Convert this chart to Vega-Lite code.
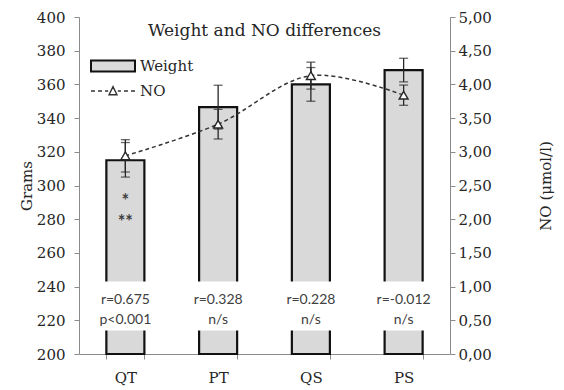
{
  "$schema": "https://vega.github.io/schema/vega-lite/v6.json",
  "width": 371,
  "height": 337,
  "autosize": "none",
  "padding": {"left": 79, "top": 17, "right": 114, "bottom": 36},
  "config": {
    "locale": {"number": {"decimal": ",", "thousands": ".", "grouping": [3], "currency": ["", " €"]}},
    "view": {"stroke": null},
    "axis": {
      "labelFont": "DejaVu Serif",
      "labelFontSize": 15,
      "labelColor": "#262626",
      "domainColor": "#8c8c8c",
      "tickColor": "#8c8c8c",
      "grid": false,
      "titleFont": "DejaVu Serif",
      "titleFontSize": 15,
      "titleFontWeight": "normal",
      "titleColor": "#262626"
    }
  },
  "title": {
    "text": "Weight and NO differences",
    "font": "DejaVu Serif",
    "fontSize": 17,
    "fontWeight": "normal",
    "color": "#262626",
    "anchor": "middle",
    "frame": "group",
    "offset": -38,
    "baseline": "middle"
  },
  "data": {
    "values": [
      {"group": "QT", "weight": 315, "wLo": 305, "wHi": 325.5, "no": 2.94, "noLo": 2.7, "noHi": 3.18, "r": "r=0.675", "p": "p<0.001", "s1": "*", "s2": "**"},
      {"group": "PT", "weight": 346.5, "wLo": 333.5, "wHi": 359.5, "no": 3.41, "noLo": 3.19, "noHi": 3.63, "r": "r=0.328", "p": "n/s", "s1": "", "s2": ""},
      {"group": "QS", "weight": 360, "wLo": 350, "wHi": 370, "no": 4.13, "noLo": 3.93, "noHi": 4.33, "r": "r=0.228", "p": "n/s", "s1": "", "s2": ""},
      {"group": "PS", "weight": 368.5, "wLo": 361.5, "wHi": 375.5, "no": 3.84, "noLo": 3.69, "noHi": 3.99, "r": "r=-0.012", "p": "n/s", "s1": "", "s2": ""}
    ]
  },
  "resolve": {"scale": {"y": "independent"}},
  "encoding": {
    "x": {
      "field": "group",
      "type": "nominal",
      "sort": null,
      "scale": {"paddingInner": 0.59, "paddingOuter": 0.295},
      "axis": {"title": null, "labelAngle": 0, "tickBand": "extent", "tickSize": 5, "labelPadding": 11}
    }
  },
  "layer": [
    {
      "encoding": {
        "y": {
          "field": "weight",
          "type": "quantitative",
          "scale": {"domain": [200, 400], "zero": false, "nice": false},
          "axis": {
            "orient": "left",
            "title": "Grams",
            "values": [200, 220, 240, 260, 280, 300, 320, 340, 360, 380, 400],
            "tickSize": 5,
            "labelPadding": 9,
            "titlePadding": 2
          }
        }
      },
      "layer": [
        {
          "mark": {"type": "bar", "stroke": "#111111", "strokeWidth": 2.2},
          "encoding": {
            "y2": {"datum": 200},
            "fill": {
              "datum": "Weight",
              "scale": {"range": ["#d9d9d9"]},
              "legend": {
                "title": null,
                "orient": "none",
                "legendX": 11,
                "legendY": 26,
                "symbolType": "M-1,-0.25H1V0.25H-1Z",
                "symbolSize": 1936,
                "symbolStrokeColor": "#111111",
                "symbolStrokeWidth": 2,
                "labelFont": "DejaVu Serif",
                "labelFontSize": 15,
                "labelColor": "#262626",
                "labelOffset": 4
              }
            }
          }
        },
        {
          "mark": {"type": "rule", "color": "#262626", "strokeWidth": 1.3},
          "encoding": {"y": {"field": "wLo", "type": "quantitative"}, "y2": {"field": "wHi"}}
        },
        {
          "mark": {"type": "tick", "color": "#262626", "size": 9, "thickness": 1.3, "orient": "horizontal"},
          "encoding": {"y": {"field": "wLo", "type": "quantitative"}}
        },
        {
          "mark": {"type": "tick", "color": "#262626", "size": 9, "thickness": 1.3, "orient": "horizontal"},
          "encoding": {"y": {"field": "wHi", "type": "quantitative"}}
        },
        {
          "mark": {"type": "bar", "fill": "white", "width": 48},
          "encoding": {"y": {"datum": 243}, "y2": {"datum": 214}}
        },
        {
          "mark": {"type": "text", "font": "Lato", "fontSize": 14, "color": "#404040", "baseline": "middle"},
          "encoding": {"y": {"datum": 232}, "text": {"field": "r"}}
        },
        {
          "mark": {"type": "text", "font": "Lato", "fontSize": 14, "color": "#404040", "baseline": "middle"},
          "encoding": {"y": {"datum": 220}, "text": {"field": "p"}}
        },
        {
          "mark": {"type": "text", "font": "Lato", "fontSize": 18, "fontWeight": "bold", "color": "#404040", "baseline": "middle"},
          "encoding": {"y": {"datum": 290}, "text": {"field": "s1"}}
        },
        {
          "mark": {"type": "text", "font": "Lato", "fontSize": 18, "fontWeight": "bold", "color": "#404040", "baseline": "middle"},
          "encoding": {"y": {"datum": 278}, "text": {"field": "s2"}}
        }
      ]
    },
    {
      "encoding": {
        "y": {
          "field": "no",
          "type": "quantitative",
          "scale": {"domain": [0, 5], "nice": false},
          "axis": {
            "orient": "right",
            "title": "NO (μmol/l)",
            "values": [0, 0.5, 1, 1.5, 2, 2.5, 3, 3.5, 4, 4.5, 5],
            "format": ".2f",
            "tickSize": 5,
            "labelPadding": 3,
            "titleAngle": 270,
            "titleBaseline": "top",
            "titlePadding": 47
          }
        }
      },
      "layer": [
        {
          "mark": {"type": "line", "interpolate": "catmull-rom", "strokeDash": [4, 3], "strokeWidth": 1.5},
          "encoding": {
            "stroke": {
              "datum": "NO",
              "scale": {"range": ["#333333"]},
              "legend": {
                "title": null,
                "orient": "none",
                "legendX": 11,
                "legendY": 51,
                "symbolType": "M-1,0H-0.82M-0.68,0H-0.5M-0.36,0H-0.22M0.22,0H0.36M0.5,0H0.68M0.82,0H1M-0.18,0.17L0,-0.2L0.18,0.17Z",
                "symbolSize": 1936,
                "symbolStrokeWidth": 1.4,
                "symbolFillColor": "white",
                "symbolDash": [],
                "labelFont": "DejaVu Serif",
                "labelFontSize": 15,
                "labelColor": "#262626",
                "labelOffset": 4
              }
            }
          }
        },
        {
          "mark": {"type": "rule", "color": "#262626", "strokeWidth": 1.3},
          "encoding": {"y": {"field": "noLo", "type": "quantitative"}, "y2": {"field": "noHi"}}
        },
        {
          "mark": {"type": "tick", "color": "#262626", "size": 9, "thickness": 1.3, "orient": "horizontal"},
          "encoding": {"y": {"field": "noLo", "type": "quantitative"}}
        },
        {
          "mark": {"type": "tick", "color": "#262626", "size": 9, "thickness": 1.3, "orient": "horizontal"},
          "encoding": {"y": {"field": "noHi", "type": "quantitative"}}
        },
        {
          "mark": {"type": "point", "shape": "triangle-up", "size": 80, "filled": true, "fill": "white", "stroke": "#262626", "strokeWidth": 1.4, "opacity": 1}
        }
      ]
    }
  ]
}
